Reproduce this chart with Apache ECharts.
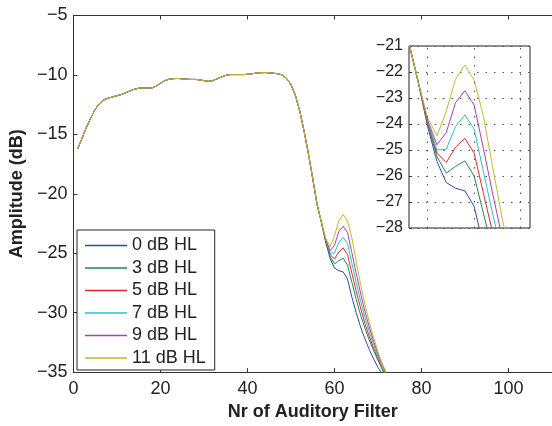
<!DOCTYPE html>
<html>
<head>
<meta charset="utf-8">
<script src="https://cdn.jsdelivr.net/npm/echarts@6.0.0/dist/echarts.min.js"></script>
<style>
  html, body { margin: 0; padding: 0; background: #fff; }
  #chart { width: 552px; height: 426px; }
</style>
</head>
<body>
<div id="chart"></div>
<script>
// common part of all curves (filters 1..57)
const sharedX = [1, 2, 3, 4, 5, 6, 7, 8, 9, 10, 11, 12, 13, 14, 15, 16, 17, 18, 19, 20,
  21, 22, 23, 24, 25, 26, 27, 28, 29, 30, 31, 32, 33, 34, 35, 36, 37, 38, 39, 40,
  41, 42, 43, 44, 45, 46, 47, 48, 49, 50, 51, 52, 53, 54, 55, 56, 57];
const sharedY = [-16.2, -15.3, -14.4, -13.6, -12.9, -12.4, -12.1, -11.95, -11.85, -11.75,
  -11.65, -11.5, -11.35, -11.2, -11.12, -11.1, -11.1, -11.1, -10.95, -10.7,
  -10.48, -10.36, -10.31, -10.3, -10.32, -10.36, -10.38, -10.38, -10.41, -10.48,
  -10.54, -10.48, -10.34, -10.18, -10.04, -9.97, -9.97, -9.97, -9.97, -9.95,
  -9.9, -9.85, -9.81, -9.8, -9.82, -9.86, -9.9, -10.0, -10.3, -10.8,
  -11.7, -13.0, -14.7, -16.6, -18.7, -20.9, -22.4];

// filters 58..72 where the curves split
const tailX = [58, 59, 60, 61, 62, 63, 64, 65, 66, 67, 68, 69, 70, 71, 72];
const hl0 = [-24.1, -25.44, -26.25, -26.47, -26.57, -27.17, -28.7, -30.0, -31.2, -32.2, -33.1, -33.9, -34.6, -35.2, -35.8];
const hl3 = [-24.0, -25.25, -25.89, -25.63, -25.42, -26.0, -27.44, -28.9, -30.2, -31.3, -32.3, -33.2, -34.0, -34.8, -35.5];
const hl5 = [-23.95, -25.12, -25.48, -24.89, -24.55, -25.12, -26.67, -28.2, -29.6, -30.9, -32.0, -33.0, -33.9, -34.7, -35.4];
const hl7 = [-23.9, -25.0, -24.97, -24.1, -23.65, -24.2, -25.84, -27.48, -29.0, -30.4, -31.6, -32.7, -33.7, -34.6, -35.3];
const hl9 = [-23.85, -24.8, -24.33, -23.18, -22.72, -23.27, -24.95, -26.7, -28.35, -29.9, -31.2, -32.4, -33.5, -34.4, -35.2];
const hl11 = [-23.75, -24.46, -23.52, -22.28, -21.73, -22.31, -23.71, -25.68, -27.6, -29.3, -30.8, -32.1, -33.3, -34.3, -35.1];

const seriesNames = ['0 dB HL', '3 dB HL', '5 dB HL', '7 dB HL', '9 dB HL', '11 dB HL'];
const tails = [hl0, hl3, hl5, hl7, hl9, hl11];
const colors = ['#2a4fa0', '#1e8a50', '#e8262a', '#22c4c8', '#b03cb0', '#c4bc20'];
const insetGridX = [58, 63, 68];

const FONT = '"Liberation Sans", Arial, Helvetica, sans-serif';
const minus = (v) => String(v).replace('-', '\u2212');

const chart = echarts.init(document.getElementById('chart'), null, { renderer: 'canvas' });

const buildData = (tail) => {
  const pts = sharedX.map((x, i) => [x, sharedY[i]]);
  tailX.forEach((x, i) => pts.push([x, tail[i]]));
  return pts;
};

const mainSeries = seriesNames.map((name, i) => ({
  name,
  type: 'line',
  xAxisIndex: 0,
  yAxisIndex: 0,
  data: buildData(tails[i]),
  showSymbol: false,
  symbol: 'none',
  lineStyle: { color: colors[i], width: 1 },
  itemStyle: { color: colors[i] },
  silent: true,
}));

// zoomed view, same data through the inset axes
const insetSeries = seriesNames.map((name, i) => ({
  name,
  type: 'line',
  xAxisIndex: 2,
  yAxisIndex: 1,
  data: buildData(tails[i]),
  showSymbol: false,
  symbol: 'none',
  lineStyle: { color: colors[i], width: 1 },
  itemStyle: { color: colors[i] },
  silent: true,
  markLine: i === 0 ? {
    silent: true,
    symbol: 'none',
    label: { show: false },
    lineStyle: { color: '#555', width: 1, type: [1.5, 7] },
    data: insetGridX.map((x) => ({ xAxis: x })),
  } : undefined,
}));

const option = {
  animation: false,
  backgroundColor: '#fff',
  textStyle: { fontFamily: FONT },
  grid: [
    { left: 70, right: -2, top: 15.5, bottom: 49.5 },
    { left: 409, right: 22, top: 46, bottom: 198, show: true, borderColor: '#222', borderWidth: 1, backgroundColor: '#fff' },
  ],
  legend: {
    data: seriesNames,
    orient: 'vertical',
    left: 77,
    top: 230,
    icon: 'rect',
    itemWidth: 42,
    itemHeight: 1.6,
    itemGap: 4.5,
    padding: [6.5, 9, 3, 8],
    borderColor: '#222',
    borderWidth: 1,
    backgroundColor: '#fff',
    selectedMode: false,
    textStyle: { fontSize: 18, color: '#222', fontFamily: FONT, lineHeight: 18 },
  },
  xAxis: [
    {
      gridIndex: 0,
      type: 'value',
      min: 0,
      max: 110,
      interval: 20,
      name: 'Nr of Auditory Filter',
      nameLocation: 'middle',
      nameGap: 23,
      nameTextStyle: { fontSize: 18, fontWeight: 'bold', color: '#222', fontFamily: FONT },
      axisLine: { show: true, lineStyle: { color: '#333', width: 1 } },
      axisTick: { show: true, inside: true, length: 4, lineStyle: { color: '#333' } },
      axisLabel: { fontSize: 18, color: '#222', margin: 8, showMaxLabel: false, fontFamily: FONT },
      splitLine: { show: false },
    },
    {
      gridIndex: 0,
      type: 'value',
      position: 'top',
      min: 0,
      max: 110,
      interval: 20,
      axisLine: { show: true, lineStyle: { color: '#333', width: 1 } },
      axisTick: { show: true, inside: true, length: 4, lineStyle: { color: '#333' } },
      axisLabel: { show: false },
      splitLine: { show: false },
    },
    {
      gridIndex: 1,
      type: 'value',
      min: 56,
      max: 69,
      axisLine: { show: false },
      axisTick: { show: false },
      axisLabel: { show: false },
      splitLine: { show: false },
    },
  ],
  yAxis: [
    {
      gridIndex: 0,
      type: 'value',
      min: -35,
      max: -5,
      interval: 5,
      name: 'Amplitude (dB)',
      nameLocation: 'middle',
      nameGap: 35,
      nameTextStyle: { fontSize: 18, fontWeight: 'bold', color: '#222', fontFamily: FONT },
      axisLine: { show: true, lineStyle: { color: '#333', width: 1 } },
      axisTick: { show: true, inside: true, length: 4, lineStyle: { color: '#333' } },
      axisLabel: { fontSize: 18, color: '#222', margin: 6, formatter: minus, fontFamily: FONT },
      splitLine: { show: false },
    },
    {
      gridIndex: 1,
      type: 'value',
      min: -28,
      max: -21,
      interval: 1,
      axisLine: { show: false },
      axisTick: { show: true, inside: true, length: 3, lineStyle: { color: '#333' } },
      axisLabel: { fontSize: 16, color: '#222', margin: 6, formatter: minus, fontFamily: FONT },
      splitLine: { show: true, lineStyle: { color: '#555', width: 1, type: [1.5, 7] } },
    },
  ],
  series: mainSeries.concat(insetSeries),
};

chart.setOption(option);
</script>
</body>
</html>
